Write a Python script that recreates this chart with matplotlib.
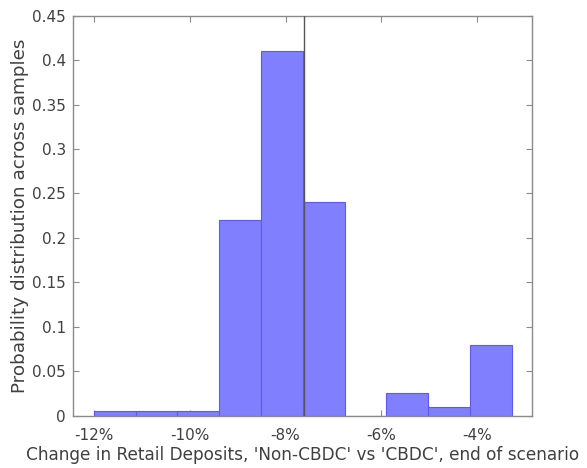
import matplotlib
matplotlib.use("Agg")
import matplotlib.pyplot as plt
import numpy as np

# Data (percent change, probability per bin)
bin_edges = [-12.00, -11.13, -10.26, -9.39, -8.51, -7.64, -6.77, -5.90, -5.03, -4.15, -3.28]
probs = [0.005, 0.005, 0.005, 0.22, 0.41, 0.24, 0.0, 0.025, 0.01, 0.08]
ref_line = -7.61
x_ticks = [-12, -10, -8, -6, -4]
x_tick_labels = ['-12%', '-10%', '-8%', '-6%', '-4%']
y_ticks = [0, 0.05, 0.1, 0.15, 0.2, 0.25, 0.3, 0.35, 0.4, 0.45]
y_tick_labels = ['0', '0.05', '0.1', '0.15', '0.2', '0.25', '0.3', '0.35', '0.4', '0.45']

plt.rcParams['font.family'] = ['DejaVu Sans']

fig = plt.figure(figsize=(5.87, 4.68), dpi=100)
ax = fig.add_axes([72.7/587, (468-415.7)/468, (532-72.7)/587, (415.7-15.7)/468])

left = np.array(bin_edges[:-1])
widths = np.diff(bin_edges)
ax.bar(left, probs, width=widths, align='edge', color='#8080ff',
       edgecolor='#5a5af2', linewidth=0.8, zorder=2)
ax.axvline(ref_line, color='#555555', linewidth=1.0, zorder=3)

ax.set_xlim(-12.445, -2.856)
ax.set_ylim(0, 0.45)
ax.set_xticks(x_ticks)
ax.set_xticklabels(x_tick_labels)
ax.set_yticks(y_ticks)
ax.set_yticklabels(y_tick_labels)

text_color = '#404040'
for s in ax.spines.values():
    s.set_color('#8a8a8a')
    s.set_linewidth(1.0)
ax.tick_params(direction='in', length=4, width=0.8, color='#8a8a8a',
               labelcolor=text_color, labelsize=11, top=True, right=True)
ax.tick_params(axis='x', pad=9)
ax.tick_params(axis='y', pad=5)

ax.set_xlabel("Change in Retail Deposits, 'Non-CBDC' vs 'CBDC', end of scenario",
              fontsize=12.2, color=text_color, labelpad=2)
ax.set_ylabel("Probability distribution across samples", fontsize=13.2,
              color=text_color, labelpad=2)

fig.savefig('out.png', dpi=100)
